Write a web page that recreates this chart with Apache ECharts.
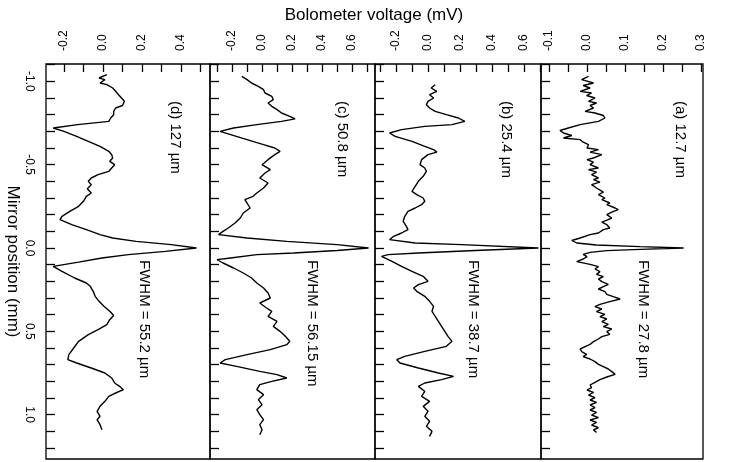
<!DOCTYPE html>
<html>
<head>
<meta charset="utf-8">
<title></title>
<script type="text/javascript" src="https://cdn.jsdelivr.net/npm/echarts@6/dist/echarts.min.js"></script>
<style>
body { margin: 0; background: #fff; }
</style>
</head>
<body>

<div id="main" style="width: 734px;height:462px;"></div>

<script type="text/javascript">

// mirror position (mm) ticks, shared by the four panels
let TICKS_POS = [-1.1,-1.0,-0.9,-0.8,-0.7,-0.6,-0.5,-0.4,-0.3,-0.2,-0.1,0,0.1,0.2,0.3,0.4,0.5,0.6,0.7,0.8,0.9,1.0,1.1,1.2];
let LABELS_POS = [-1.0,-0.5,0,0.5,1.0];

// bolometer voltage (mV) ticks per panel
let TICKS_D = [-0.2,-0.1,0,0.1,0.2,0.3,0.4,0.5];
let LABELS_D = [-0.2,0,0.2,0.4];
let TICKS_C = [-0.3,-0.2,-0.1,0,0.1,0.2,0.3,0.4,0.5,0.6,0.7];
let LABELS_C = [-0.2,0,0.2,0.4,0.6];
let TICKS_B = [-0.3,-0.2,-0.1,0,0.1,0.2,0.3,0.4,0.5,0.6,0.7];
let LABELS_B = [-0.2,0,0.2,0.4,0.6];
let TICKS_A = [-0.1,-0.05,0,0.05,0.1,0.15,0.2,0.25,0.3];
let LABELS_A = [-0.1,0,0.1,0.2,0.3];

let PANEL_NAMES = ['(d) 127 µm', '(c) 50.8 µm', '(b) 25.4 µm', '(a) 12.7 µm'];
let FWHM_TEXT = ['FWHM = 55.2 µm', 'FWHM = 56.15 µm', 'FWHM = 38.7 µm', 'FWHM = 27.8 µm'];

// (d) 127 um
let POS_D = [
	-1.04,-1.02,-1.01,-0.99,-0.98,-0.96,-0.94,-0.92,-0.90,-0.88,
	-0.87,-0.855,-0.84,-0.82,-0.80,-0.78,-0.76,-0.74,-0.72,-0.70,
	-0.67,-0.64,-0.61,-0.58,-0.56,-0.54,-0.52,-0.50,-0.48,-0.46,
	-0.44,-0.42,-0.40,-0.38,-0.355,-0.33,-0.31,-0.28,-0.25,-0.22,
	-0.19,-0.17,-0.14,-0.11,-0.08,-0.06,-0.04,-0.02,0.00,0.02,
	0.04,0.06,0.085,0.11,0.14,0.18,0.21,0.23,0.26,0.29,
	0.32,0.35,0.38,0.405,0.43,0.46,0.49,0.52,0.56,0.60,
	0.64,0.67,0.69,0.72,0.75,0.78,0.81,0.83,0.85,0.87,
	0.89,0.92,0.95,0.98,1.01,1.03,1.06,1.09
];
let VOLT_D = [
	0.02,-0.02,0.01,-0.015,0.02,0.05,0.065,0.08,0.095,0.11,
	0.115,0.10,0.065,0.055,0.055,0.04,0.03,-0.13,-0.255,-0.20,
	-0.135,-0.075,-0.015,0.03,0.045,0.05,0.035,0.06,0.045,0.03,
	-0.025,-0.06,-0.075,-0.06,-0.08,-0.06,-0.085,-0.10,-0.125,-0.17,
	-0.21,-0.22,-0.16,-0.085,-0.015,0.05,0.17,0.35,0.48,0.32,
	0.13,-0.005,-0.125,-0.255,-0.21,-0.145,-0.085,-0.065,-0.05,-0.04,
	-0.02,0.005,0.035,0.055,0.035,0.02,-0.025,-0.075,-0.125,-0.15,
	-0.175,-0.18,-0.135,-0.06,0.01,0.045,0.06,0.085,0.105,0.065,
	0.03,0.01,-0.015,-0.03,-0.015,-0.03,-0.015,-0.005
];

// (c) 50.8 um
let POS_C = [
	-1.03,-1.01,-0.99,-0.97,-0.95,-0.93,-0.91,-0.89,-0.87,-0.85,
	-0.83,-0.81,-0.79,-0.775,-0.76,-0.74,-0.72,-0.70,-0.68,-0.65,
	-0.62,-0.60,-0.58,-0.56,-0.53,-0.50,-0.47,-0.45,-0.42,-0.39,
	-0.36,-0.33,-0.31,-0.29,-0.27,-0.24,-0.21,-0.18,-0.15,-0.12,
	-0.10,-0.08,-0.06,-0.04,-0.02,0,0.015,0.03,0.04,0.06,
	0.07,0.09,0.12,0.15,0.18,0.21,0.24,0.27,0.30,0.33,
	0.36,0.38,0.41,0.44,0.47,0.50,0.53,0.56,0.58,0.61,
	0.64,0.67,0.69,0.71,0.74,0.76,0.78,0.80,0.82,0.85,
	0.88,0.91,0.94,0.97,1.00,1.03,1.06,1.09,1.12
];
let VOLT_C = [
	-0.135,-0.10,-0.07,-0.025,0.01,0.02,0.065,0.075,0.04,0.065,
	0.10,0.13,0.185,0.22,0.13,-0.035,-0.19,-0.28,-0.21,-0.10,
	0.01,0.085,0.12,0.085,0.04,0.00,0.055,0.02,-0.015,0.04,
	0.01,-0.035,-0.06,-0.115,-0.10,-0.08,-0.125,-0.145,-0.18,-0.225,
	-0.26,-0.29,-0.10,0.165,0.50,0.71,0.50,0.21,-0.035,-0.21,
	-0.30,-0.26,-0.19,-0.125,-0.07,-0.035,0.01,0.04,0.055,-0.015,
	0.03,0.065,0.04,0.10,0.075,0.12,0.155,0.185,0.165,0.055,
	-0.10,-0.245,-0.28,-0.17,-0.015,0.10,0.165,0.065,-0.015,-0.035,
	0.01,-0.025,0.00,-0.035,-0.015,0.01,-0.015,0.00,-0.015
];

// (b) 25.4 um
let POS_B = [
	-0.98,-0.96,-0.94,-0.92,-0.90,-0.88,-0.86,-0.84,-0.82,-0.80,
	-0.78,-0.76,-0.74,-0.73,-0.71,-0.69,-0.67,-0.64,-0.61,-0.59,
	-0.575,-0.56,-0.53,-0.50,-0.48,-0.46,-0.43,-0.40,-0.37,-0.34,
	-0.32,-0.30,-0.28,-0.26,-0.24,-0.22,-0.19,-0.16,-0.13,-0.11,
	-0.09,-0.07,-0.05,-0.03,-0.02,0,0.015,0.03,0.04,0.05,
	0.08,0.11,0.14,0.17,0.20,0.22,0.24,0.26,0.29,0.32,
	0.35,0.38,0.41,0.44,0.47,0.50,0.53,0.56,0.59,0.62,
	0.65,0.67,0.69,0.72,0.75,0.77,0.79,0.81,0.83,0.86,
	0.89,0.92,0.95,0.98,1.01,1.04,1.07,1.10,1.13
];
let VOLT_B = [
	0.045,0.02,0.055,0.01,0.035,0.00,-0.01,0.01,0.045,0.115,
	0.19,0.23,0.15,-0.02,-0.165,-0.24,-0.205,-0.10,-0.02,0.035,
	0.055,0.00,-0.04,-0.05,-0.02,-0.01,-0.03,-0.06,-0.08,-0.10,
	-0.07,-0.03,-0.02,-0.04,-0.08,-0.125,-0.145,-0.155,-0.135,-0.125,
	-0.165,-0.215,-0.24,-0.08,0.21,0.69,0.295,-0.06,-0.25,-0.29,
	-0.225,-0.165,-0.10,-0.03,0.00,-0.06,-0.09,-0.07,-0.02,0.01,
	0.035,0.025,0.045,0.065,0.085,0.105,0.125,0.15,0.115,-0.02,
	-0.145,-0.195,-0.175,-0.06,0.065,0.16,0.085,-0.02,-0.06,-0.02,
	-0.04,0.01,-0.03,0.00,-0.02,0.01,-0.01,0.025,0.01
];

// (a) 12.7 um
let POS_A = [
	-1.03,-1.01,-0.99,-0.975,-0.96,-0.94,-0.93,-0.915,-0.90,-0.88,
	-0.87,-0.855,-0.84,-0.82,-0.81,-0.795,-0.78,-0.76,-0.74,-0.72,
	-0.705,-0.69,-0.675,-0.66,-0.65,-0.635,-0.62,-0.60,-0.59,-0.575,
	-0.56,-0.54,-0.53,-0.515,-0.50,-0.48,-0.47,-0.455,-0.44,-0.42,
	-0.41,-0.395,-0.38,-0.36,-0.35,-0.335,-0.32,-0.30,-0.29,-0.27,
	-0.26,-0.24,-0.23,-0.215,-0.20,-0.18,-0.17,-0.155,-0.14,-0.12,
	-0.11,-0.09,-0.08,-0.06,-0.045,-0.03,-0.018,-0.008,0,0.008,
	0.016,0.026,0.038,0.052,0.066,0.082,0.098,0.112,0.126,0.142,
	0.158,0.172,0.186,0.202,0.218,0.232,0.246,0.262,0.278,0.292,
	0.306,0.322,0.338,0.352,0.366,0.382,0.398,0.412,0.426,0.442,
	0.458,0.472,0.486,0.502,0.518,0.532,0.546,0.562,0.578,0.592,
	0.606,0.622,0.638,0.652,0.666,0.682,0.698,0.712,0.726,0.742,
	0.758,0.774,0.79,0.806,0.822,0.838,0.852,0.866,0.882,0.898,
	0.912,0.926,0.942,0.958,0.972,0.986,1.002,1.018,1.032,1.046,
	1.062,1.078,1.092,1.106
];
let VOLT_A = [
	0.004,-0.014,0.017,-0.01,0.008,-0.018,0.012,-0.001,0.021,0.004,
	0.025,0.008,0.017,-0.005,0.021,0.043,0.047,0.03,-0.018,-0.049,
	-0.071,-0.062,-0.04,-0.062,-0.018,-0.01,0.004,0,0.03,0.008,
	0.039,0.017,0,0.017,0.008,0.03,0.004,0.025,0.012,0.03,
	0.017,0.034,0.012,0.025,0.021,0.043,0.03,0.047,0.039,0.06,
	0.052,0.074,0.082,0.065,0.052,0.065,0.056,0.039,0.052,0.06,
	0.043,0.03,0.008,-0.018,-0.04,-0.027,0.025,0.14,0.254,0.14,
	0.052,0.008,-0.01,0,-0.01,-0.027,0.008,0.03,0.021,0.034,
	0.025,0.043,0.03,0.039,0.056,0.043,0.03,0.047,0.052,0.069,
	0.087,0.06,0.034,0.021,0.039,0.025,0.047,0.034,0.052,0.039,
	0.056,0.043,0.065,0.052,0.06,0.039,0.03,0.017,0.008,-0.005,
	-0.018,-0.014,-0.001,-0.01,0.008,0.021,0.03,0.043,0.056,0.065,
	0.074,0.052,0.034,0.021,0.008,0.012,0,0.017,0.004,0.021,
	0.008,0.025,0.008,0.021,0.008,0.025,0.012,0.03,0.008,0.025,
	0.012,0.03,0.017,0.025
];

let FONT = '"Liberation Sans", Arial, Helvetica, sans-serif';

// panel layout, left to right: d, c, b, a
let panels = [
	{ left: 46,  width: 164, min: -0.292, max: 0.549, ticks: TICKS_D, labels: LABELS_D, pos: POS_D, volt: VOLT_D, nameX: 175, fwhmX: 144 },
	{ left: 210, width: 165, min: -0.347, max: 0.753, ticks: TICKS_C, labels: LABELS_C, pos: POS_C, volt: VOLT_C, nameX: 342, fwhmX: 312 },
	{ left: 375, width: 166, min: -0.331, max: 0.706, ticks: TICKS_B, labels: LABELS_B, pos: POS_B, volt: VOLT_B, nameX: 506, fwhmX: 473 },
	{ left: 541, width: 162, min: -0.121, max: 0.305, ticks: TICKS_A, labels: LABELS_A, pos: POS_A, volt: VOLT_A, nameX: 680, fwhmX: 643 }
];

function toPairs(volt, pos){
	return volt.map((v, i) => [v, pos[i]]);
}

let option = {
	animation: false,
	backgroundColor: '#fff',
	textStyle: { fontFamily: FONT, color: '#000' },
	grid: [],
	xAxis: [],
	yAxis: [],
	series: [],
	graphic: []
};

panels.forEach((p, i) => {
	option.grid.push({
		left: p.left, top: 64, width: p.width, height: 395,
		show: true, borderColor: '#000', borderWidth: 1.3,
		backgroundColor: 'transparent',
		containLabel: false,
		outerBoundsMode: 'none'
	});
	option.xAxis.push({
		type: 'value', gridIndex: i, position: 'top',
		min: p.min, max: p.max,
		axisLine: { show: false, onZero: false },
		splitLine: { show: false },
		axisTick: { inside: true, length: 8, customValues: p.ticks, lineStyle: { color: '#000', width: 1.3 } },
		axisLabel: {
			customValues: p.labels, rotate: -90, margin: 13,
			fontSize: 12, fontFamily: FONT, color: '#000',
			formatter: (v) => v.toFixed(1)
		}
	});
	option.yAxis.push({
		type: 'value', gridIndex: i, inverse: true, position: 'left',
		min: -1.104, max: 1.266,
		name: i === 0 ? 'Mirror position (mm)' : '',
		nameLocation: 'middle', nameRotate: -90, nameGap: 25,
		nameTextStyle: { fontSize: 17, fontFamily: FONT, color: '#000' },
		axisLine: { show: false, onZero: false },
		splitLine: { show: false },
		axisTick: { inside: true, length: 9, customValues: TICKS_POS, lineStyle: { color: '#000', width: 1.3 } },
		axisLabel: {
			show: i === 0, customValues: LABELS_POS, rotate: -90, margin: 11,
			fontSize: 12, fontFamily: FONT, color: '#000',
			formatter: (v) => v.toFixed(1)
		}
	});
	option.series.push({
		type: 'line', xAxisIndex: i, yAxisIndex: i,
		data: toPairs(p.volt, p.pos),
		showSymbol: false, symbol: 'none',
		lineStyle: { color: '#000', width: 1.4 }
	});
	option.graphic.push({
		type: 'text', x: p.nameX, y: 101, rotation: -Math.PI / 2,
		style: { text: PANEL_NAMES[i], font: '15px ' + FONT, fill: '#000', textAlign: 'left', textVerticalAlign: 'middle' }
	});
	option.graphic.push({
		type: 'text', x: p.fwhmX, y: 260, rotation: -Math.PI / 2,
		style: { text: FWHM_TEXT[i], font: '15px ' + FONT, fill: '#000', textAlign: 'left', textVerticalAlign: 'middle' }
	});
});

option.graphic.push({
	type: 'text', x: 374, y: 15,
	style: { text: 'Bolometer voltage (mV)', font: '17px ' + FONT, fill: '#000', textAlign: 'center', textVerticalAlign: 'middle' }
});

var myChart = echarts.init(document.getElementById('main'));
myChart.setOption(option);

</script>

</body>
</html>
